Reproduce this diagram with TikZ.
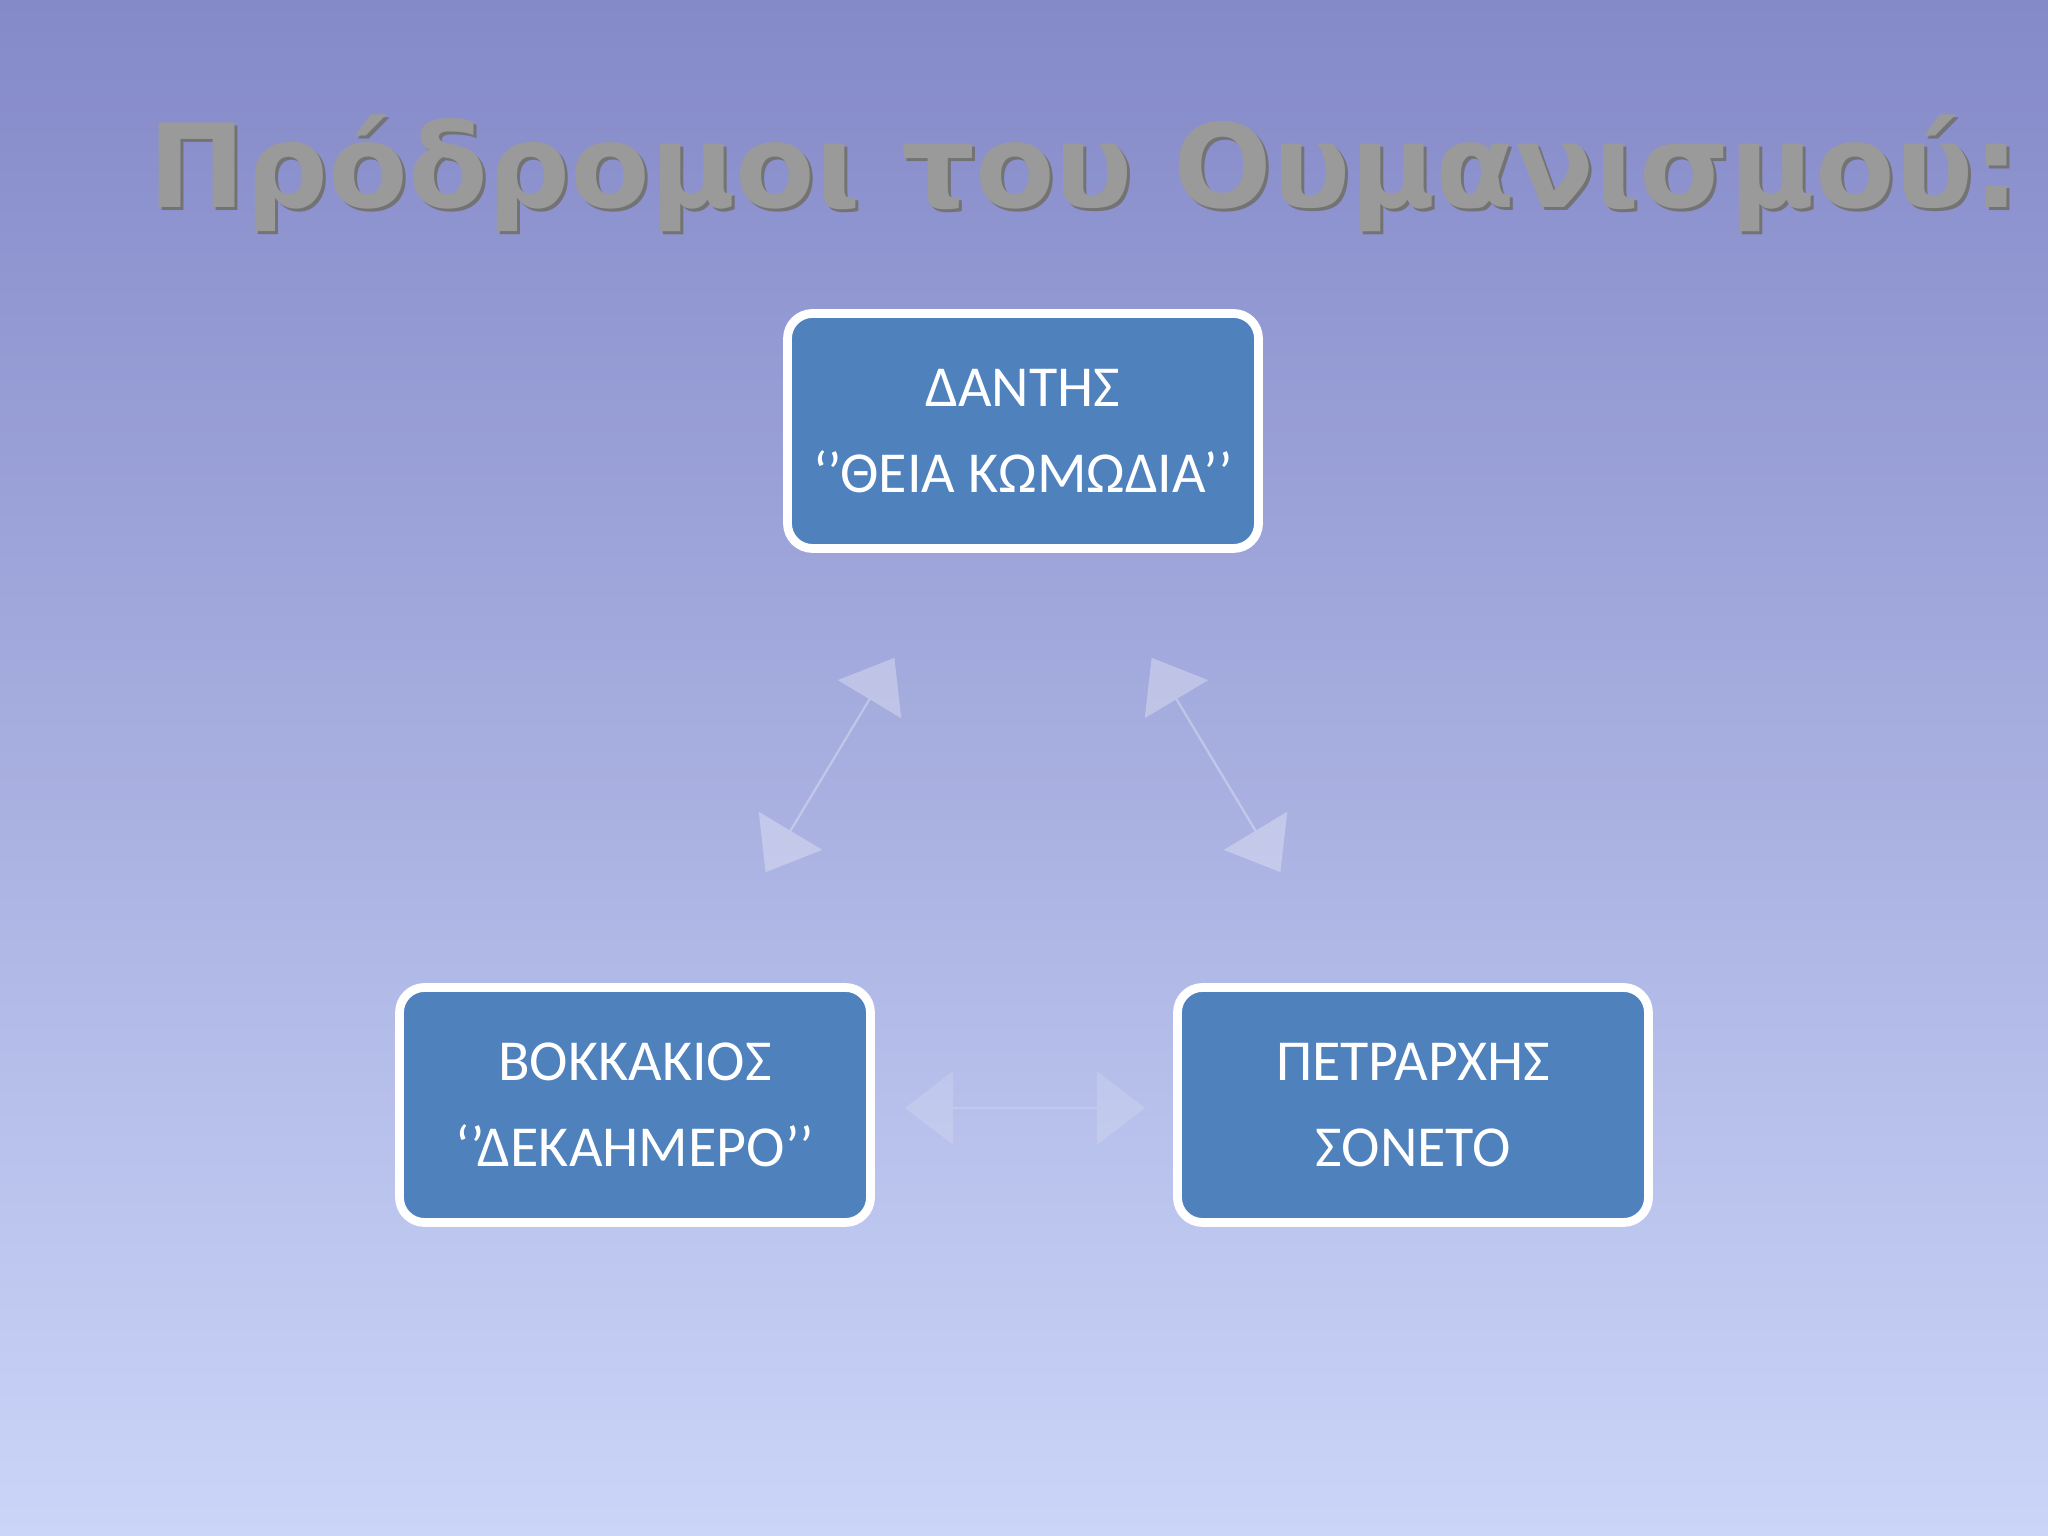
\documentclass[tikz,border=0pt]{standalone}
\usepackage{fontspec}
\setmainfont{Carlito}
\newfontfamily\titlefont{DejaVu Sans}
\usetikzlibrary{shapes.arrows}
\definecolor{bxblue}{HTML}{4F81BD}
\definecolor{bgtop}{HTML}{8489C8}
\definecolor{bgbot}{HTML}{CBD5F8}
\definecolor{ttlgray}{HTML}{9A9A9A}
\tikzset{
  box/.style={draw=white,line width=2.5pt,fill=bxblue,rounded corners=0.25cm,
    minimum width=4.71cm,minimum height=2.35cm,text=white,align=center,
    font=\fontsize{16.5}{24.5}\selectfont},
  dbl/.style={shape=double arrow,fill=white,fill opacity=0.3,inner sep=0pt,
    minimum width=0.74cm,double arrow head extend=0.22cm,double arrow tip angle=75,minimum height=2.5cm}
}
\begin{document}
\begin{tikzpicture}
\shade[top color=bgtop,bottom color=bgbot] (0,0) rectangle (20.48,15.36);
\useasboundingbox (0,0) rectangle (20.48,15.36);
\node[font=\titlefont\bfseries\fontsize{33}{35}\selectfont,text=black!55] (ts) at (10.87,13.60) {Πρόδρομοι του Ουμανισμού:};
\node[font=\titlefont\bfseries\fontsize{33}{35}\selectfont,text=ttlgray] (t) at (10.84,13.63) {Πρόδρομοι του Ουμανισμού:};
\node[box] (d) at (10.23,11.05) {ΔΑΝΤΗΣ\\‘’ΘΕΙΑ ΚΩΜΩΔΙΑ’’};
\node[box] (b) at (6.35,4.31) {ΒΟΚΚΑΚΙΟΣ\\‘’ΔΕΚΑΗΜΕΡΟ’’};
\node[box] (p) at (14.13,4.31) {ΠΕΤΡΑΡΧΗΣ\\ΣΟΝΕΤΟ};
\node[dbl,rotate=59] (a1) at (8.30,7.71) {};
\node[dbl,rotate=-59] (a2) at (12.16,7.71) {};
\node[dbl,fill opacity=0.15,minimum height=2.4cm] (a3) at (10.25,4.28) {};
\end{tikzpicture}
\end{document}
